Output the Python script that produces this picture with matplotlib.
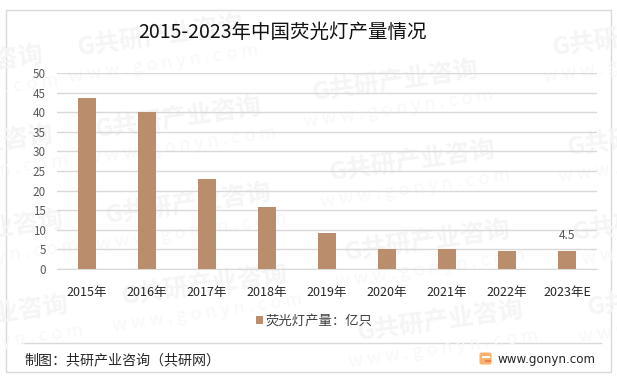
import matplotlib

matplotlib.use("Agg")
import matplotlib.pyplot as plt
import numpy as np
from matplotlib.patches import FancyBboxPatch, Rectangle

plt.rcParams["font.family"] = ["Noto Sans CJK SC", "DejaVu Sans"]

W, H = 617, 377

years = ["2015年", "2016年", "2017年", "2018年", "2019年", "2020年", "2021年", "2022年", "2023年E"]
output = [43.6, 40.1, 23.0, 15.8, 9.2, 5.1, 5.1, 4.6, 4.5]
y_ticks = [0, 5, 10, 15, 20, 25, 30, 35, 40, 45, 50]

title = "2015-2023年中国荧光灯产量情况"
legend_label = "荧光灯产量：亿只"
source = "制图：共研产业咨询（共研网）"
site = "www.gonyn.com"
mark_cn = "G共研产业咨询"
mark_en = "w w w . g o n y n . c o m"

BAR = "#BA8E6C"
GRID = "#D9D9D9"
TICK = "#595959"
MARK = "#F5F5F5"
MARK_EN = "#F8F8F8"

fig = plt.figure(figsize=(W / 100, H / 100), dpi=100, facecolor="white")

# full-figure layer in pixel coords for frame, watermark, footer
bg = fig.add_axes([0, 0, 1, 1], zorder=0)
bg.set_xlim(0, W)
bg.set_ylim(H, 0)
bg.axis("off")

bg.add_patch(Rectangle((5.5, 9.5), 605, 362.5, fc="white", ec="#D9D9D9", lw=1))

marks = [(160, 40), (178, 122), (188, 208), (204, 289), (395, 85), (412, 165),
         (427, 245), (440, 325), (635, 40), (650, 140), (655, 225), (670, 300),
         (-40, 70), (-30, 150), (-20, 235), (-15, 320)]
for mx, my in marks:
    bg.text(mx, my - 4, mark_cn, fontsize=18, fontweight="bold", color=MARK,
            rotation=8, ha="center", va="center", rotation_mode="anchor", clip_on=True)
    bg.text(mx + 3, my + 24, mark_en, fontsize=13, color=MARK_EN,
            rotation=8, ha="center", va="center", rotation_mode="anchor", clip_on=True)

bg.plot([22, 601], [342.5, 342.5], color=GRID, lw=1)
bg.text(24, 360, source, fontsize=10.1, color="#262626", ha="left", va="center")
bg.text(497, 359, site, fontsize=8.6, color="#262626", ha="left", va="center",
        family=["DejaVu Sans"])
bg.add_patch(FancyBboxPatch((480, 353), 11, 11, boxstyle="round,pad=0.5,rounding_size=2",
                            fc="#F8B26A", ec="none"))
bg.add_patch(Rectangle((482, 356), 8, 1.6, fc="white", ec="none"))
bg.add_patch(Rectangle((485, 360), 6, 1.6, fc="#F47B4F", ec="none"))

bg.text(282.5, 32, title, fontsize=14, color="#111111", ha="center", va="center")

# chart axes: x 57-597 px, y=50 at 73 px, y=0 at 269 px
ax = fig.add_axes([57 / W, 1 - 269 / H, 540 / W, 196 / H], zorder=1)
ax.patch.set_alpha(0)
x = np.arange(len(years))
ax.bar(x, output, width=0.3, color=BAR, zorder=3)
ax.set_xlim(-0.5, len(years) - 0.5)
ax.set_ylim(0, 50)
ax.set_yticks(y_ticks)
ax.set_xticks(x, years)
ax.grid(axis="y", color=GRID, lw=1, zorder=1)
ax.set_axisbelow(True)
for s in ["top", "right", "left"]:
    ax.spines[s].set_visible(False)
ax.spines["bottom"].set_color(GRID)
ax.tick_params(axis="both", length=0)
ax.tick_params(axis="y", labelsize=8.4, labelcolor=TICK, pad=8)
ax.tick_params(axis="x", labelsize=9, labelcolor="#262626", pad=12)
ax.annotate(f"{output[-1]}", (x[-1], output[-1]), xytext=(0, 7), textcoords="offset points",
            ha="center", va="bottom", fontsize=8.6, color=TICK)

ax.legend([ax.containers[0]], [legend_label], loc="center", bbox_to_anchor=(0.476, -0.262),
          frameon=False, fontsize=9.6, handlelength=0.55, handleheight=0.55,
          handletextpad=0.2, labelcolor="#404040", borderpad=0)

fig.savefig("out.png", dpi=100)
